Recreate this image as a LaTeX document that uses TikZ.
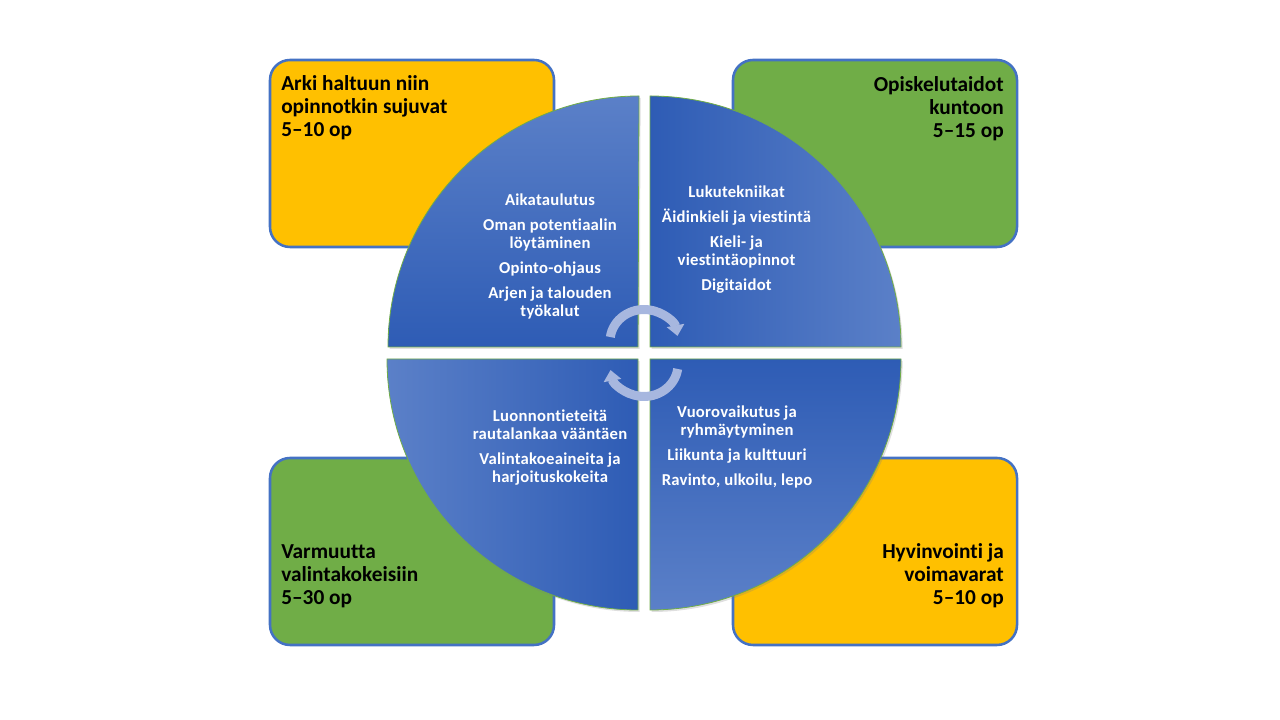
\documentclass[tikz,border=0pt]{standalone}
\usepackage{fontspec}
\setmainfont{Carlito}[Ligatures=NoCommon]
\newfontfamily\quarterfont{Carlito}[LetterSpace=1.5,Ligatures=NoCommon]
\usetikzlibrary{arrows.meta,shadows}
\definecolor{amber}{HTML}{FFC000}
\definecolor{leafgreen}{HTML}{70AD47}
\definecolor{boxline}{HTML}{4472C4}
\definecolor{deepblue}{HTML}{2E5CB5}
\definecolor{midblue}{HTML}{3A6CC9}
\definecolor{paleblue}{HTML}{5B80C8}
\definecolor{turnblue}{HTML}{A7B7DF}

\begin{document}
\begin{tikzpicture}[x=0.75pt,y=0.75pt,
  opbox/.style={draw=boxline,line width=1.9pt,rounded corners=15pt},
  quarter/.style={draw=leafgreen,line width=0.6pt,
    drop shadow={shadow xshift=1.2pt,shadow yshift=-1.5pt,opacity=0.25}},
  boxtext/.style={inner sep=0pt,font=\bfseries\fontsize{16}{17.4}\selectfont},
  quartertext/.style={text=white,align=center,font=\quarterfont\bfseries\fontsize{12.5}{13.5}\selectfont},
  turn/.style={draw=turnblue,line width=6.75pt,-{Triangle[width=13pt,length=8pt]}}]
\useasboundingbox (0,0) rectangle (1280,720);

% coloured boxes in the corners
\draw[opbox,fill=amber] (270,473) rectangle (554,660);
\draw[opbox,fill=leafgreen] (733,473) rectangle (1017,660);
\draw[opbox,fill=leafgreen] (270,75) rectangle (554,262);
\draw[opbox,fill=amber] (733,75) rectangle (1017,262);

\node[boxtext,anchor=north west,align=left] (arkititle) at (281,645) {Arki haltuun niin\\opinnotkin sujuvat\\5–10 op};
\node[boxtext,anchor=north east,align=right] (taitotitle) at (1004,644) {Opiskelutaidot\\kuntoon\\5–15 op};
\node[boxtext,anchor=north west,align=left] (koetitle) at (281,176) {Varmuutta\\valintakokeisiin\\5–30 op};
\node[boxtext,anchor=north east,align=right] (voimatitle) at (1004,177) {Hyvinvointi ja\\voimavarat\\5–10 op};

% four quarters of the circle
\draw[quarter,top color=paleblue,middle color=midblue,bottom color=deepblue]
  (638,373) -- (388,373) arc[start angle=180,end angle=90,radius=251] -- cycle;
\draw[quarter,left color=deepblue,middle color=midblue,right color=paleblue]
  (650,373) -- (650,624) arc[start angle=90,end angle=0,radius=251] -- cycle;
\draw[quarter,left color=paleblue,middle color=midblue,right color=deepblue]
  (638,361) -- (638,110) arc[start angle=270,end angle=180,radius=251] -- cycle;
\draw[quarter,top color=deepblue,middle color=midblue,bottom color=paleblue]
  (650,361) -- (901,361) arc[start angle=0,end angle=-90,radius=251] -- cycle;

\node[quartertext] (arkilist) at (550,464) {Aikataulutus\\[5.25pt]Oman potentiaalin\\löytäminen\\[5.25pt]Opinto-ohjaus\\[5.25pt]Arjen ja talouden\\työkalut};
\node[quartertext] (taitolist) at (736.5,480) {Lukutekniikat\\[5.25pt]Äidinkieli ja viestintä\\[5.25pt]Kieli- ja\\viestintäopinnot\\[5.25pt]Digitaidot};
\node[quartertext] (koelist) at (550,272) {Luonnontieteitä\\rautalankaa vääntäen\\[5.25pt]Valintakoeaineita ja\\harjoituskokeita};
\node[quartertext] (voimalist) at (737,273) {Vuorovaikutus ja\\ryhmäytyminen\\[5.25pt]Liikunta ja kulttuuri\\[5.25pt]Ravinto, ulkoilu, lepo};

% cycle arrows in the middle
\draw[turn] (644,378.5) ++(172:34 and 32) arc[start angle=172,end angle=10,x radius=34,y radius=32];
\draw[turn] (644,355.5) ++(-8:34 and 32) arc[start angle=-8,end angle=-170,x radius=34,y radius=32];
\end{tikzpicture}
\end{document}
